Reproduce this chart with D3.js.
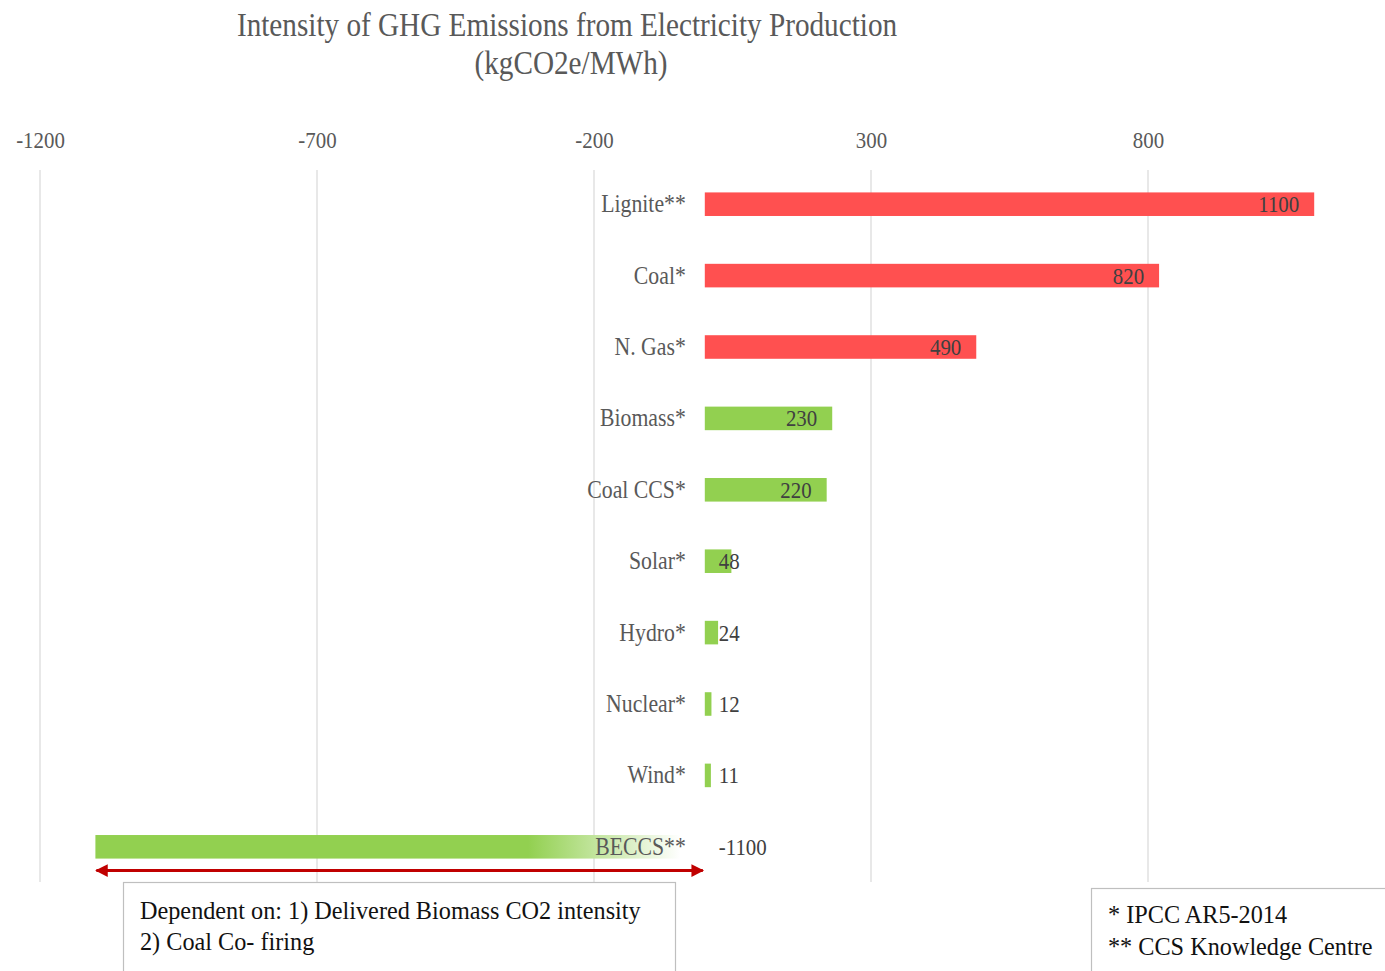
<!DOCTYPE html>
<html>
<head>
<meta charset="utf-8">
<script src="https://cdn.jsdelivr.net/npm/d3@7/dist/d3.min.js"></script>
<style>
  html, body { margin: 0; padding: 0; background: #fff; }
  svg { display: block; }
  text { font-family: "Liberation Serif", "Times New Roman", serif; }
</style>
</head>
<body>
<svg id="chart" width="1385" height="971"></svg>
<script>
// GHG emission intensity by source, kgCO2e/MWh
const categories = ["Lignite**", "Coal*", "N. Gas*", "Biomass*", "Coal CCS*", "Solar*", "Hydro*", "Nuclear*", "Wind*", "BECCS**"];
const values = [1100, 820, 490, 230, 220, 48, 24, 12, 11, -1100];
const barColors = ["red", "red", "red", "green", "green", "green", "green", "green", "green", "gradient"];
const tickValues = [-1200, -700, -200, 300, 800];
const titleLines = ["Intensity of GHG Emissions from Electricity Production", "(kgCO2e/MWh)"];
const noteLeft = ["Dependent on: 1) Delivered Biomass CO2 intensity", "2) Coal Co- firing"];
const noteRight = ["* IPCC AR5-2014", "** CCS Knowledge Centre"];

const RED = "#FF5050", GREEN = "#92D050", GRID = "#D9D9D9", LABEL = "#595959";
const SX = 0.87; // narrow face width

// plain hyphen for negatives
const fmt = v => String(Math.round(v));

const svg = d3.select("#chart");

const x = d3.scaleLinear().domain([-1200, 1200]).range([40, 40 + 2400 * 0.554]);
const y = d3.scaleBand().domain(categories).range([168.5, 882.5]).paddingInner(0.67).paddingOuter(0.335);

// gradient for the BECCS bar, fading toward the zero line
const defs = svg.append("defs");
const grad = defs.append("linearGradient").attr("id", "beccsFade")
  .attr("x1", "0%").attr("x2", "100%").attr("y1", "0%").attr("y2", "0%");
grad.append("stop").attr("offset", "0%").attr("stop-color", GREEN);
grad.append("stop").attr("offset", "71%").attr("stop-color", GREEN);
grad.append("stop").attr("offset", "96%").attr("stop-color", "#ffffff");
grad.append("stop").attr("offset", "100%").attr("stop-color", "#ffffff");

// arrow markers
defs.append("marker").attr("id", "arrowEnd").attr("viewBox", "0 0 10 10")
  .attr("refX", 9).attr("refY", 5).attr("markerWidth", 5).attr("markerHeight", 4.2)
  .attr("markerUnits", "strokeWidth").attr("orient", "auto")
  .append("path").attr("d", "M0,0 L10,5 L0,10 Z").attr("fill", "#C00000");
defs.append("marker").attr("id", "arrowStart").attr("viewBox", "0 0 10 10")
  .attr("refX", 1).attr("refY", 5).attr("markerWidth", 5).attr("markerHeight", 4.2)
  .attr("markerUnits", "strokeWidth").attr("orient", "auto")
  .append("path").attr("d", "M10,0 L0,5 L10,10 Z").attr("fill", "#C00000");

function narrowText(sel, px, py, sx = SX) {
  sel.attr("x", 0).attr("y", 0).attr("transform", `translate(${px},${py}) scale(${sx},1)`);
}

// title
titleLines.forEach((t, i) => {
  svg.append("text").text(t)
    .attr("text-anchor", "middle").attr("fill", LABEL).attr("font-size", 33)
    .call(narrowText, i === 0 ? 567 : 571, i === 0 ? 36 : 74, 0.885);
});

// gridlines
svg.append("g").selectAll("line").data(tickValues).join("line")
  .attr("x1", d => x(d)).attr("x2", d => x(d))
  .attr("y1", 170).attr("y2", 882)
  .attr("stroke", GRID).attr("stroke-width", 1.2);

// top axis labels
const axis = svg.append("g").attr("transform", "translate(0,148)")
  .call(d3.axisTop(x).tickValues(tickValues).tickSize(0).tickPadding(0).tickFormat(fmt));
axis.select(".domain").remove();
axis.selectAll("text")
  .attr("fill", LABEL).attr("font-size", 24)
  .attr("font-family", "Liberation Serif, serif")
  .attr("dy", 0).attr("y", 0)
  .attr("transform", `scale(${SX},1)`);

// bars
const x0 = x(0);
svg.append("g").selectAll("rect").data(categories).join("rect")
  .attr("x", (d, i) => Math.min(x(values[i]), x0))
  .attr("width", (d, i) => Math.abs(x(values[i]) - x0))
  .attr("y", d => y(d))
  .attr("height", y.bandwidth())
  .attr("fill", (d, i) => barColors[i] === "red" ? RED : barColors[i] === "green" ? GREEN : "url(#beccsFade)");

// category labels
categories.forEach((c, i) => {
  svg.append("text").text(c)
    .attr("text-anchor", "end").attr("fill", LABEL).attr("font-size", 25)
    .call(narrowText, x0 - 19, y(c) + y.bandwidth() / 2 + 8);
});

// value labels
categories.forEach((c, i) => {
  const v = values[i];
  const inside = v > 100;
  svg.append("text").text(fmt(v))
    .attr("text-anchor", inside ? "end" : "start")
    .attr("fill", "#404040").attr("font-size", 24)
    .call(narrowText, inside ? x(v) - 15 : x0 + 14, y(c) + y.bandwidth() / 2 + 8);
});

// double arrow spanning the BECCS range
const beccsY = y("BECCS**") + y.bandwidth() + 12;
svg.append("line")
  .attr("x1", x(-1100) + 1).attr("x2", x(0) - 2)
  .attr("y1", beccsY).attr("y2", beccsY)
  .attr("stroke", "#C00000").attr("stroke-width", 3)
  .attr("marker-start", "url(#arrowStart)").attr("marker-end", "url(#arrowEnd)");

// note boxes
svg.append("rect").attr("x", 123.5).attr("y", 882.5).attr("width", 552).attr("height", 100)
  .attr("fill", "#fff").attr("stroke", "#BFBFBF").attr("stroke-width", 1.2);
noteLeft.forEach((t, i) => {
  svg.append("text").text(t).attr("fill", "#111").attr("font-size", 25)
    .call(narrowText, 140, 919 + i * 31, 0.97);
});
svg.append("rect").attr("x", 1091.5).attr("y", 888.5).attr("width", 320).attr("height", 100)
  .attr("fill", "#fff").attr("stroke", "#BFBFBF").attr("stroke-width", 1.2);
noteRight.forEach((t, i) => {
  svg.append("text").text(t).attr("fill", "#111").attr("font-size", 25)
    .call(narrowText, 1108, 923 + i * 32, 0.97);
});
</script>
</body>
</html>
